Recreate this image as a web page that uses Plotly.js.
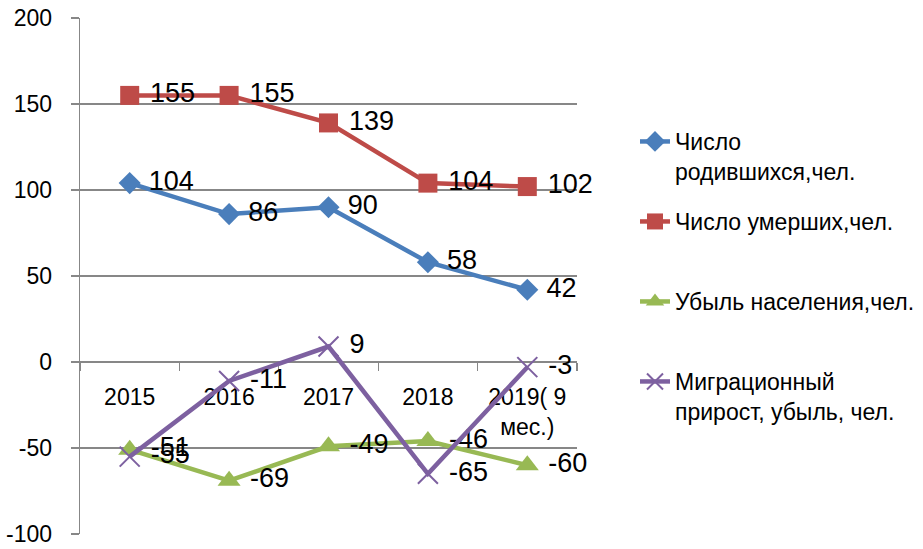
<!DOCTYPE html>
<html>
<head>
<meta charset="utf-8">
<script src="https://cdn.plot.ly/plotly-3.0.1.min.js"></script>
<style>html,body{margin:0;padding:0;background:#fff;}#chart{width:923px;height:549px;}</style>
</head>
<body>
<div id="chart"></div>
<script>
const categories = ['2015', '2016', '2017', '2018', '2019( 9<br>мес.)'];
const births = [104, 86, 90, 58, 42];
const deaths = [155, 155, 139, 104, 102];
const decline = [-51, -69, -49, -46, -60];
const migration = [-55, -11, 9, -65, -3];
const yTickVals = [-100, -50, 0, 50, 100, 150, 200];
const yTickText = ['-100', '-50', '0', '50', '100', '150', '200'];
const seriesNames = ['Число<br>родившихся,чел.', 'Число умерших,чел.', 'Убыль населения,чел.', 'Миграционный<br>прирост, убыль, чел.'];

const FONT = 'Liberation Sans, Arial, sans-serif';
const L = 80, R = 577, T = 18, B = 534;
const px = x => (x - L) / (R - L);
const py = y => (B - y) / (B - T);
const PAD = '\u00a0';

function tr(vals, name, color, marker, legend) {
  return {
    x: categories, y: vals, name: name, legend: legend,
    type: 'scatter', mode: 'lines+markers+text',
    text: vals.map(v => PAD + String(v)), textposition: 'middle right',
    textfont: {family: FONT, size: 27, color: '#000'},
    line: {color: color, width: 4.5},
    marker: Object.assign({color: color}, marker),
    cliponaxis: false
  };
}

const data = [
  tr(births, seriesNames[0], '#4A7EBB', {symbol: 'diamond', size: 17}, 'legend'),
  tr(deaths, seriesNames[1], '#BE4B48', {symbol: 'square', size: 19}, 'legend2'),
  tr(decline, seriesNames[2], '#98B954', {symbol: 'triangle-up', size: 20}, 'legend3'),
  tr(migration, seriesNames[3], '#7D60A0', {symbol: 'x-thin', size: 20, line: {color: '#7D60A0', width: 2}}, 'legend4')
];

function leg(yc) {
  return {x: px(635), xanchor: 'left', y: py(yc - 20), yanchor: 'top', valign: 'top',
    bgcolor: 'rgba(0,0,0,0)', font: {family: FONT, size: 23, color: '#000'}};
}

const layout = {
  width: 923, height: 549,
  margin: {l: L, r: 923 - R, t: T, b: 549 - B, autoexpand: false},
  paper_bgcolor: '#fff', plot_bgcolor: '#fff',
  font: {family: FONT, size: 23, color: '#000'},
  showlegend: true,
  legend: leg(140), legend2: leg(220), legend3: leg(300), legend4: leg(380),
  xaxis: {
    type: 'category', range: [-0.5, 4.5], anchor: 'free', position: 1/3,
    showline: true, linecolor: '#878787', linewidth: 1.3,
    ticks: 'outside', tickson: 'boundaries', ticklen: 8, tickcolor: '#878787', tickwidth: 1.3,
    showgrid: false, zeroline: false, layer: 'below traces',
    tickfont: {family: FONT, size: 23, color: '#000'}, ticklabelstandoff: 14
  },
  yaxis: {
    range: [-100, 200], tickmode: 'array', tickvals: yTickVals, ticktext: yTickText,
    showline: true, linecolor: '#878787', linewidth: 1.3,
    ticks: 'outside', ticklen: 8, tickcolor: '#878787', tickwidth: 1.3,
    showgrid: true, gridcolor: '#878787', gridwidth: 1.3, zeroline: false, layer: 'below traces',
    tickfont: {family: FONT, size: 23, color: '#000'}, ticklabelstandoff: 14
  }
};

Plotly.newPlot('chart', data, layout, {displayModeBar: false, staticPlot: true});
</script>
</body>
</html>
